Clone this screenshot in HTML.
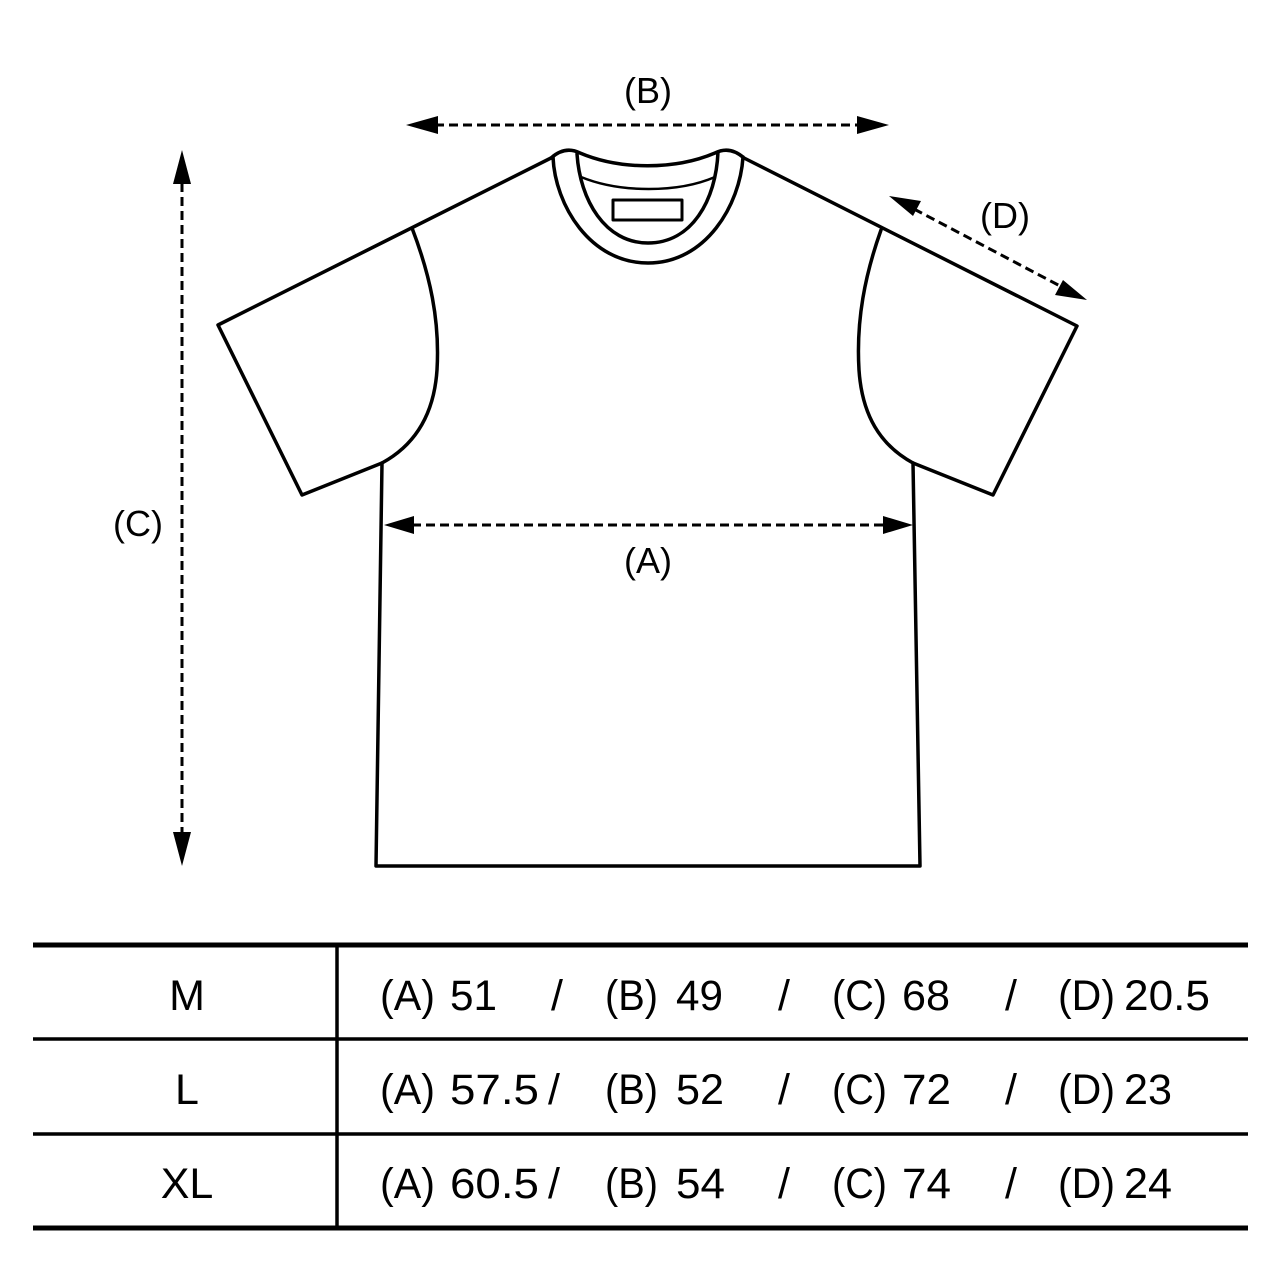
<!DOCTYPE html>
<html><head><meta charset="utf-8"><style>html,body{margin:0;padding:0;background:#fff}svg{display:block}</style></head>
<body>
<svg width="1280" height="1280" viewBox="0 0 1280 1280" xmlns="http://www.w3.org/2000/svg" font-family="Liberation Sans, sans-serif" fill="none" stroke="#000">
<g stroke-width="3.5" stroke-linejoin="round" stroke-linecap="round">
<!-- shoulders and sleeves -->
<path d="M551 158 L218 325 L302 495 L382 463"/>
<path d="M744 158 L1077 326 L993 495 L913 463"/>
<!-- body -->
<path d="M382 463 L376 866 L920 866 L913 463"/>
<!-- armholes -->
<path d="M412 228 C430 275 440 320 437 370 C434 415 415 445 382 463"/>
<path d="M881 230 C865 275 856 320 859 370 C862 415 880 445 913 463"/>
<!-- neck -->
<path d="M551 158 C560 150 570 148 580 153 C620 170 675 170 715 153 C725 148 735 150 744 158"/>
<path d="M553 157 C555 205 590 263 648 263 C706 263 740 205 743 157"/>
<path d="M577 154 C580 200 605 243 648 243 C692 243 716 200 718 152"/>
<path d="M581 177 C620 193 678 193 715 177" stroke-width="2.5"/>
<rect x="613" y="200" width="69" height="20" stroke-width="3"/>
</g>
<!-- dashed arrows -->
<g stroke-width="3" stroke-dasharray="9,5">
<line x1="435" y1="125" x2="860" y2="125"/>
<line x1="182" y1="183" x2="182" y2="835"/>
<line x1="412" y1="525" x2="884" y2="525"/>
<line x1="914" y1="209" x2="1062" y2="287"/>
</g>
<g fill="#000" stroke="none">
<polygon points="406,125 438,116 438,134"/>
<polygon points="889,125 857,116 857,134"/>
<polygon points="182,150 173,184 191,184"/>
<polygon points="182,866 173,832 191,832"/>
<polygon points="384,525 414,516 414,534"/>
<polygon points="913,525 883,516 883,534"/>
<polygon points="889,196 921,201 913,216"/>
<polygon points="1087,300 1055,295 1063,280"/>
</g>
<g fill="#000" stroke="none" font-size="36" text-anchor="middle">
<text x="648" y="103">(B)</text>
<text x="138" y="536">(C)</text>
<text x="648" y="573">(A)</text>
<text x="1005" y="228">(D)</text>
</g>
<!-- table -->
<g stroke-width="5">
<line x1="33" y1="945" x2="1248" y2="945"/>
<line x1="33" y1="1228" x2="1248" y2="1228"/>
</g>
<g stroke-width="3.5">
<line x1="33" y1="1039" x2="1248" y2="1039"/>
<line x1="33" y1="1134" x2="1248" y2="1134"/>
<line x1="337" y1="945" x2="337" y2="1228"/>
</g>
<g fill="#000" stroke="none" font-size="43">
<text x="187" y="1010" text-anchor="middle">M</text>
<text x="187" y="1104" text-anchor="middle">L</text>
<text x="187" y="1198" text-anchor="middle">XL</text>

<text x="380" y="1010" textLength="55" lengthAdjust="spacingAndGlyphs">(A)</text>
<text x="450" y="1010" textLength="47" lengthAdjust="spacingAndGlyphs">51</text>
<text x="551" y="1010">/</text>
<text x="605" y="1010" textLength="53" lengthAdjust="spacingAndGlyphs">(B)</text>
<text x="676" y="1010" textLength="47" lengthAdjust="spacingAndGlyphs">49</text>
<text x="778" y="1010">/</text>
<text x="832" y="1010" textLength="55" lengthAdjust="spacingAndGlyphs">(C)</text>
<text x="902" y="1010" textLength="48" lengthAdjust="spacingAndGlyphs">68</text>
<text x="1005" y="1010">/</text>
<text x="1058" y="1010" textLength="57" lengthAdjust="spacingAndGlyphs">(D)</text>
<text x="1124" y="1010" textLength="86" lengthAdjust="spacingAndGlyphs">20.5</text>

<text x="380" y="1104" textLength="55" lengthAdjust="spacingAndGlyphs">(A)</text>
<text x="450" y="1104" textLength="89" lengthAdjust="spacingAndGlyphs">57.5</text>
<text x="548" y="1104">/</text>
<text x="605" y="1104" textLength="53" lengthAdjust="spacingAndGlyphs">(B)</text>
<text x="676" y="1104" textLength="48" lengthAdjust="spacingAndGlyphs">52</text>
<text x="778" y="1104">/</text>
<text x="832" y="1104" textLength="55" lengthAdjust="spacingAndGlyphs">(C)</text>
<text x="902" y="1104" textLength="49" lengthAdjust="spacingAndGlyphs">72</text>
<text x="1005" y="1104">/</text>
<text x="1058" y="1104" textLength="57" lengthAdjust="spacingAndGlyphs">(D)</text>
<text x="1124" y="1104" textLength="48" lengthAdjust="spacingAndGlyphs">23</text>

<text x="380" y="1198" textLength="55" lengthAdjust="spacingAndGlyphs">(A)</text>
<text x="450" y="1198" textLength="89" lengthAdjust="spacingAndGlyphs">60.5</text>
<text x="548" y="1198">/</text>
<text x="605" y="1198" textLength="53" lengthAdjust="spacingAndGlyphs">(B)</text>
<text x="676" y="1198" textLength="49" lengthAdjust="spacingAndGlyphs">54</text>
<text x="778" y="1198">/</text>
<text x="832" y="1198" textLength="55" lengthAdjust="spacingAndGlyphs">(C)</text>
<text x="902" y="1198" textLength="49" lengthAdjust="spacingAndGlyphs">74</text>
<text x="1005" y="1198">/</text>
<text x="1058" y="1198" textLength="57" lengthAdjust="spacingAndGlyphs">(D)</text>
<text x="1124" y="1198" textLength="48" lengthAdjust="spacingAndGlyphs">24</text>
</g>
</svg>
</body></html>
